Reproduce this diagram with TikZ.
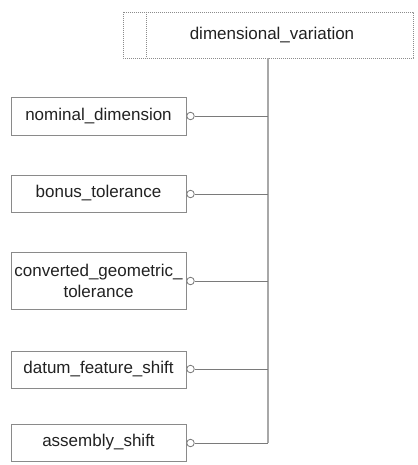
\documentclass[tikz,border=0pt]{standalone}
\usepackage{fontspec}
\setmainfont{Liberation Sans}
\begin{document}
\begin{tikzpicture}[x=1pt,y=-1pt,
  ent/.style={draw=boxgray, line width=0.9pt, rectangle, minimum width=175pt, inner sep=0pt, align=center, text=textdark, font=\fontsize{17}{21}\selectfont},
  ring/.style={draw=linegray, fill=white, circle, minimum size=7.5pt, inner sep=0pt, line width=0.8pt},
  conn/.style={draw=linegray, line width=0.9pt},
  dashbox/.style={draw=dashgray, line width=0.8pt, dash pattern=on 1.2pt off 0.8pt}
]
\definecolor{boxgray}{HTML}{8A8A8A}
\definecolor{linegray}{HTML}{7A7A7A}
\definecolor{vgray}{HTML}{A8A8A8}
\definecolor{dashgray}{HTML}{8C8C8C}
\definecolor{textdark}{HTML}{222222}
\useasboundingbox[fill=white] (0,0) rectangle (417,465);

% top entity
\draw[dashbox] (123,12) rectangle (413,58);
\draw[dashbox] (146,12) -- (146,58);
\node[text=textdark, font=\fontsize{17}{21}\selectfont] (dv) at (272,35) {dimensional\_variation};
\coordinate (top) at (268,58);

% left entities
\node[ent, minimum height=38pt] (nd) at (98.5,116) {nominal\_dimension};
\node[ent, minimum height=37pt] (bt) at (98.5,193.5) {bonus\_tolerance};
\node[ent, minimum height=57pt] (cg) at (98.5,280.5) {converted\_geometric\_\\tolerance};
\node[ent, minimum height=37pt] (df) at (98.5,369.5) {datum\_feature\_shift};
\node[ent, minimum height=37pt] (as) at (98.5,442.5) {assembly\_shift};

% rings
\node[ring] (r1) at (190.5,116) {};
\node[ring] (r2) at (190.5,194) {};
\node[ring] (r3) at (190.5,281) {};
\node[ring] (r4) at (190.5,369) {};
\node[ring] (r5) at (190.5,443) {};

% junctions
\coordinate (j1) at (268,116);
\coordinate (j2) at (268,194);
\coordinate (j3) at (268,281);
\coordinate (j4) at (268,369);
\coordinate (j5) at (268,443);

\draw[draw=vgray, line width=1.3pt] (top) -- (j5);
\draw[conn] (r1.east) -- (j1);
\draw[conn] (r2.east) -- (j2);
\draw[conn] (r3.east) -- (j3);
\draw[conn] (r4.east) -- (j4);
\draw[conn] (r5.east) -- (j5);
\end{tikzpicture}
\end{document}
